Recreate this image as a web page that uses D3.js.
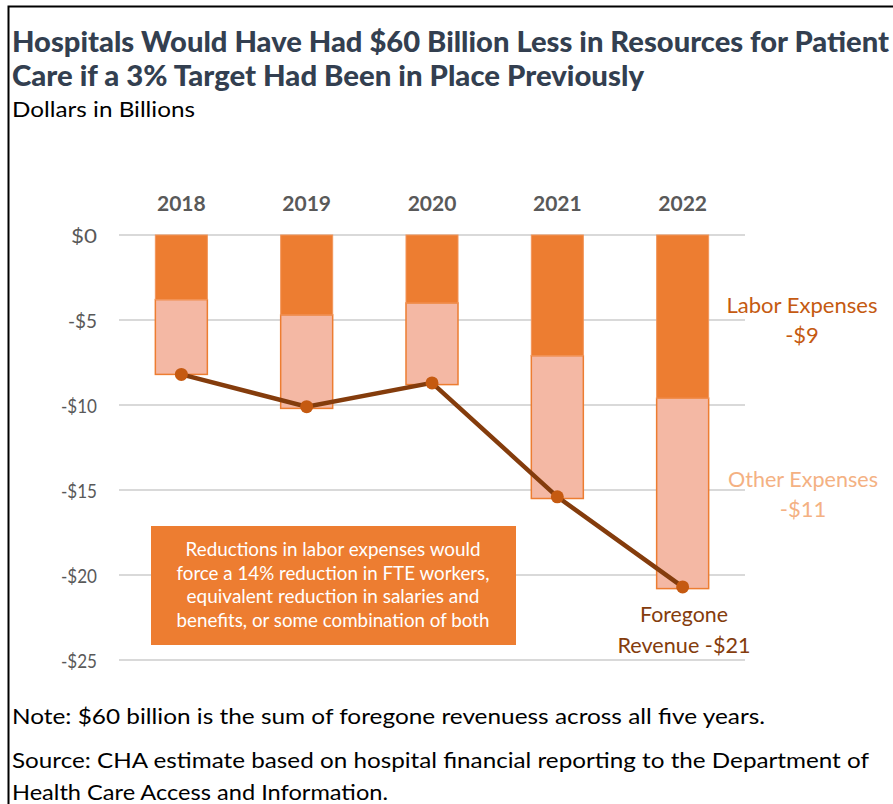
<!DOCTYPE html>
<html><head><meta charset="utf-8">
<script src="https://cdn.jsdelivr.net/npm/d3@7"></script>
<style>body{margin:0;background:#fff;} svg{display:block;font-family:Lato, "Open Sans", sans-serif;}</style>
</head><body>
<script>
const years = ["2018","2019","2020","2021","2022"];
const laborExpenses = [-3.8, -4.7, -4.0, -7.1, -9.6];
const otherExpenses = [-4.4, -5.5, -4.8, -8.4, -11.2];
const foregoneRevenue = [-8.2, -10.1, -8.7, -15.4, -20.7];
const yTicks = [0, -5, -10, -15, -20, -25];

const W = 893, H = 804;
const svg = d3.select("body").append("svg").attr("width", W).attr("height", H);

// frame
svg.append("path").attr("d", "M8.5,804 L8.5,6.5 L893,6.5").attr("fill","none").attr("stroke","#000").attr("stroke-width",2);

function line1(x, y, size, color, txt, len, opts={}){
  const t = svg.append("text").attr("x",x).attr("y",y).attr("font-size",size).attr("fill",color).text(txt);
  if (opts.weight) t.attr("font-weight",opts.weight);
  if (opts.anchor) t.attr("text-anchor",opts.anchor);
  if (len) t.attr("textLength",len).attr("lengthAdjust","spacingAndGlyphs");
  return t;
}

// title
line1(12, 52, 29, "#333F50", "Hospitals Would Have Had $60 Billion Less in Resources for Patient", 877, {weight:900});
line1(12, 86, 29, "#333F50", "Care if a 3% Target Had Been in Place Previously", 632, {weight:900});
line1(12, 117, 22, "#000", "Dollars in Billions", 183);

const x = d3.scaleBand().domain(years).range([119, 745]).paddingInner(0.585).paddingOuter(0.29);
const y = d3.scaleLinear().domain([-25, 0]).range([660, 235]);

// gridlines
svg.append("g").selectAll("line").data(yTicks).join("line")
  .attr("x1",119).attr("x2",745).attr("y1",d=>y(d)).attr("y2",d=>y(d))
  .attr("stroke","#D9D9D9").attr("stroke-width",2);

// y axis
const yAxis = d3.axisLeft(y).tickValues(yTicks).tickSize(0).tickPadding(0)
  .tickFormat(d => (d < 0 ? "-$" + (-d) : "$" + d));
const ga = svg.append("g").attr("transform","translate(97,0)").call(yAxis);
ga.select(".domain").remove();
ga.selectAll("text").attr("font-size",20).attr("fill","#595959").attr("font-family","Lato, sans-serif").attr("dy","0.35em")
  .attr("textLength", d => d === 0 ? 26 : (Math.abs(d) >= 10 ? 36 : 29)).attr("lengthAdjust","spacingAndGlyphs");

// year labels on top
const xAxis = d3.axisTop(x).tickSize(0).tickPadding(0);
const gx = svg.append("g").attr("transform","translate(0,211)").call(xAxis);
gx.select(".domain").remove();
gx.selectAll("text").attr("font-size",21).attr("font-weight",700).attr("fill","#595959").attr("font-family","Lato, sans-serif");

// bars
const bw = x.bandwidth();
svg.append("g").selectAll("rect").data(years).join("rect")
  .attr("x", d => x(d)).attr("width", bw)
  .attr("y", (d,i) => y(laborExpenses[i])).attr("height", (d,i) => y(laborExpenses[i] + otherExpenses[i]) - y(laborExpenses[i]))
  .attr("fill","#F4B8A4").attr("stroke","#ED7D31").attr("stroke-width",1.5);
svg.append("g").selectAll("rect").data(years).join("rect")
  .attr("x", d => x(d)).attr("width", bw)
  .attr("y", y(0)).attr("height", (d,i) => y(laborExpenses[i]) - y(0))
  .attr("fill","#ED7D31").attr("stroke","#F2955A").attr("stroke-width",1);

// line
const line = d3.line().x((d,i) => x(years[i]) + bw/2).y(d => y(d));
svg.append("path").datum(foregoneRevenue).attr("d", line).attr("fill","none")
  .attr("stroke","#843C0C").attr("stroke-width",4.5);
svg.append("g").selectAll("circle").data(foregoneRevenue).join("circle")
  .attr("cx",(d,i)=>x(years[i])+bw/2).attr("cy",d=>y(d)).attr("r",6.5).attr("fill","#C55A11");

// series labels
line1(802, 313, 22, "#C55A11", "Labor Expenses", 151, {anchor:"middle"});
line1(802, 343, 22, "#C55A11", "-$9", null, {anchor:"middle"});
line1(803, 487, 22, "#F4B183", "Other Expenses", 150, {anchor:"middle"});
line1(803, 517, 22, "#F4B183", "-$11", null, {anchor:"middle"});
line1(684, 622, 22, "#843C0C", "Foregone", 88, {anchor:"middle"});
line1(684, 653, 22, "#843C0C", "Revenue -$21", 133, {anchor:"middle"});

// annotation box
svg.append("rect").attr("x",151).attr("y",526).attr("width",365).attr("height",119).attr("fill","#ED7D31");
const ann = ["Reductions in labor expenses would","force a 14% reduction in FTE workers,","equivalent reduction in salaries and","benefits, or some combination of both"];
const annW = [295, 313, 293, 313];
ann.forEach((s,i)=> line1(333, 556+i*23.7, 18.5, "#fff", s, annW[i], {anchor:"middle"}));

// notes
line1(12, 724, 22, "#000", "Note: $60 billion is the sum of foregone revenuess across all five years.", 753);
line1(12, 768, 22, "#000", "Source: CHA estimate based on hospital financial reporting to the Department of", 857);
line1(12, 800, 22, "#000", "Health Care Access and Information.", 376);
</script>
</body></html>
